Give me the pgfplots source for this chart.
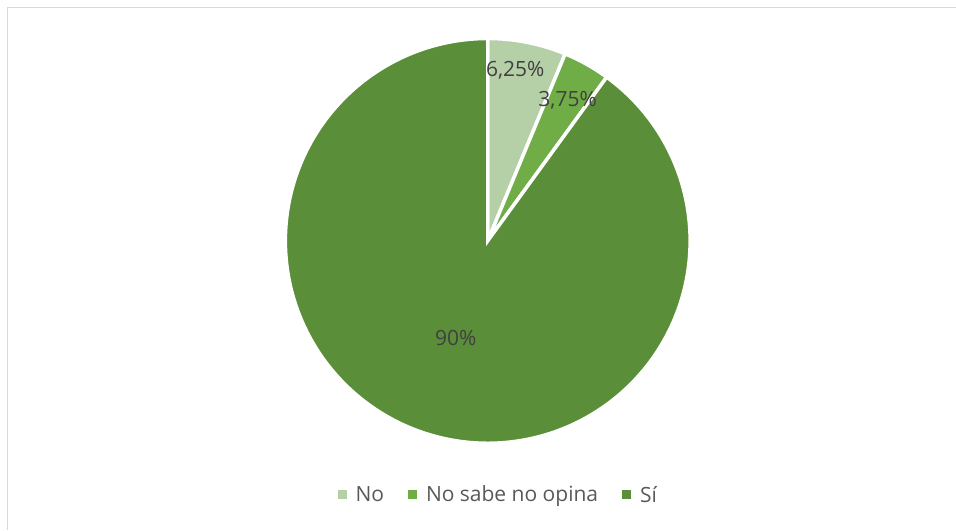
\documentclass[border=0pt]{standalone}
\usepackage{pgfplots}
\usepackage{pgfplotstable}
\pgfplotsset{compat=1.18}
\usepackage{fontspec}
\setmainfont{Open Sans}
\definecolor{cNo}{HTML}{B5CFA7}
\definecolor{cNS}{HTML}{70AD47}
\definecolor{cSi}{HTML}{5A8E39}
\definecolor{lbl}{HTML}{404040}
\definecolor{leg}{HTML}{595959}
\definecolor{brd}{HTML}{D9D9D9}
\pgfplotstableread{
label value
No 6.25
NoSabe 3.75
Si 90
}\piedata
\pgfplotstablegetelem{0}{value}\of\piedata \let\vA\pgfplotsretval
\pgfplotstablegetelem{1}{value}\of\piedata \let\vB\pgfplotsretval
\pgfplotstablegetelem{2}{value}\of\piedata \let\vC\pgfplotsretval
\pgfmathsetmacro\aZ{90}
\pgfmathsetmacro\aA{90-3.6*\vA}
\pgfmathsetmacro\aB{\aA-3.6*\vB}
\pgfmathsetmacro\aC{\aB-3.6*\vC}
\def\cx{488}
\def\cy{289}
\def\rr{202.5}
\begin{document}
\begin{tikzpicture}
\begin{axis}[
  scale only axis, width=956pt, height=530pt,
  xmin=0, xmax=956, ymin=0, ymax=530,
  hide axis, clip=false,
  legend columns=3,
  legend style={at={(axis cs:498.5,35)}, anchor=center, draw=none, fill=none,
    font=\fontsize{21}{25}\selectfont, text=leg, inner sep=0pt,
    /tikz/every odd column/.append style={column sep=7pt},
    /tikz/every even column/.append style={column sep=22pt}},
  legend image code/.code={\fill[draw=none] (0pt,-4.5pt) rectangle (9pt,4.5pt);},
]
\path (axis cs:0,0) rectangle (axis cs:956,530);
\draw[brd, line width=1pt] (axis cs:7.5,0) -- (axis cs:7.5,522.5) -- (axis cs:956,522.5);
\addplot[fill=cNo, draw=white, line width=3.5pt, domain=\aA:\aZ, samples=40, variable=\t]
  ({\cx+\rr*cos(\t)},{\cy+\rr*sin(\t)}) -- (axis cs:\cx,\cy) -- cycle;
\addlegendentry{No}
\addplot[fill=cNS, draw=white, line width=3.5pt, domain=\aB:\aA, samples=30, variable=\t]
  ({\cx+\rr*cos(\t)},{\cy+\rr*sin(\t)}) -- (axis cs:\cx,\cy) -- cycle;
\addlegendentry{No sabe no opina}
\addplot[fill=cSi, draw=white, line width=3.5pt, domain=\aC:\aB, samples=300, variable=\t]
  ({\cx+\rr*cos(\t)},{\cy+\rr*sin(\t)}) -- (axis cs:\cx,\cy) -- cycle;
\addlegendentry{Sí}
\node[text=lbl, font=\fontsize{21}{25}\selectfont, inner sep=0pt] at (axis cs:515.5,460) {6,25\%};
\node[text=lbl, font=\fontsize{21}{25}\selectfont, inner sep=0pt] at (axis cs:568,430) {3,75\%};
\node[text=lbl, font=\fontsize{21}{25}\selectfont, inner sep=0pt] at (axis cs:456,192) {90\%};
\end{axis}
\end{tikzpicture}
\end{document}
